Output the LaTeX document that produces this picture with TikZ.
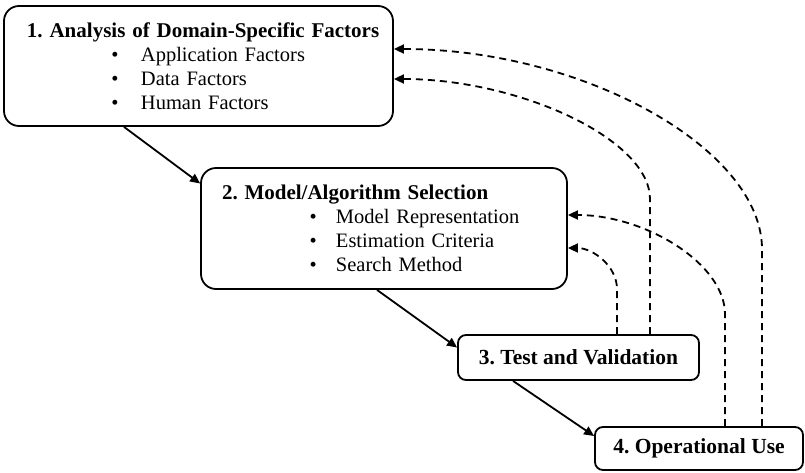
\documentclass[tikz,border=0pt]{standalone}
\usepackage{fontspec}
\setmainfont{Liberation Serif}
\usetikzlibrary{positioning,arrows.meta}
\frenchspacing

% bullet line inside a stage box: indent, bullet box width, text
\newcommand{\bitem}[3]{\\\hspace*{#1}\makebox[#2][l]{\textbullet}#3}
\newcommand{\stagetitle}[1]{\mbox{\fontsize{21}{24}\selectfont\bfseries #1}}

\begin{document}
\begin{tikzpicture}[
  x=1pt, y=1pt,
  font=\fontsize{20.5}{24}\selectfont,
  stage/.style  ={rectangle, rounded corners=15pt, draw=black, line width=1.8pt,
                  align=left, inner ysep=0pt},
  stepbox/.style={rectangle, rounded corners=8pt, draw=black, line width=1.8pt,
                  font=\fontsize{21.5}{24}\selectfont\bfseries, inner sep=0pt},
  flow/.style   ={-{Triangle[length=10pt,width=9pt]}, line width=1.8pt, draw=black},
  back/.style   ={flow, dash pattern=on 7pt off 5pt},
]
\useasboundingbox (0,0) rectangle (805,-472);

% Stages, top-left to bottom-right
\node[stage, text width=343pt, inner xsep=23pt, minimum height=120pt] (ana) at (198.5,-66)
  {\stagetitle{1. Analysis of Domain-Specific Factors}%
   \bitem{84.5pt}{29.5pt}{Application Factors}%
   \bitem{84.5pt}{29.5pt}{Data Factors}%
   \bitem{84.5pt}{29.5pt}{Human Factors}};
\node[stage, text width=324pt, inner xsep=21pt, minimum height=121pt] (sel) at (384,-228.5)
  {\stagetitle{2. Model/Algorithm Selection}%
   \bitem{87.5pt}{26.5pt}{Model Representation}%
   \bitem{87.5pt}{26.5pt}{Estimation Criteria}%
   \bitem{87.5pt}{26.5pt}{Search Method}};
\node[stepbox, minimum width=241pt, minimum height=45pt] (val) at (578.5,-357.5) {3. Test and Validation};
\node[stepbox, minimum width=208pt, minimum height=43pt] (ops) at (699,-448.5) {4. Operational Use};

% Forward flow
\draw[flow] ([xshift=-74.5pt]ana.south) -- ([yshift=45pt]sel.west);
\draw[flow] ([xshift=-7pt]sel.south)    -- ([yshift=10pt]val.west);
\draw[flow] ([xshift=-65.5pt]val.south) -- ([yshift=12.5pt]ops.west);

% -------- feedback loops --------------------------------------------------
\draw[back] ([xshift=63pt]ops.north) -- ++(0,177)
  .. controls +(0,100) and +(190,0) .. ([yshift=17pt]ana.east);
\draw[back] ([xshift=71.5pt]val.north) -- ++(0,135)
  .. controls +(0,60) and +(125,0) .. ([yshift=-13pt]ana.east);
\draw[back] ([xshift=26pt]ops.north) -- ++(0,112)
  .. controls +(0,50) and +(78,0) .. ([yshift=13.5pt]sel.east);
\draw[back] ([xshift=38.5pt]val.north) -- ++(0,45)
  .. controls +(0,23) and +(25,0) .. ([yshift=-19.5pt]sel.east);

\end{tikzpicture}
\end{document}
